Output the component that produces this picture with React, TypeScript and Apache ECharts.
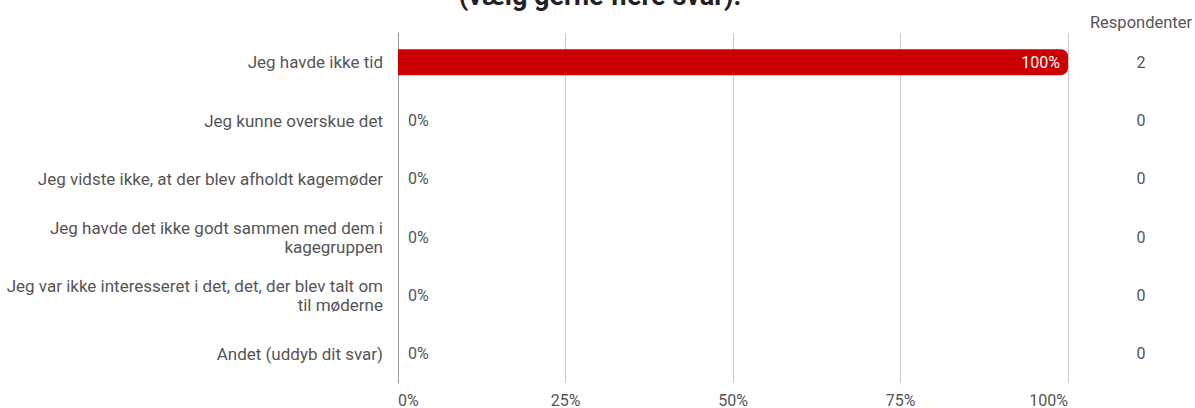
import React, { useEffect, useRef } from "react";
import * as echarts from "echarts";

const titleText = "(vælg gerne flere svar):";
const categories = [
  "Jeg havde ikke tid",
  "Jeg kunne overskue det",
  "Jeg vidste ikke, at der blev afholdt kagemøder",
  "Jeg havde det ikke godt sammen med dem i kagegruppen",
  "Jeg var ikke interesseret i det, det, der blev talt om til møderne",
  "Andet (uddyb dit svar)",
];
const percentValues = [100, 0, 0, 0, 0, 0];
const respondentCounts = [2, 0, 0, 0, 0, 0];
const respondentHeader = "Respondenter";

function wrapText(text: string, font: string, maxWidth: number): string {
  const canvas = document.createElement("canvas");
  const ctx = canvas.getContext("2d");
  if (!ctx) return text;
  ctx.font = font;
  const words = text.split(" ");
  const lines: string[] = [];
  let cur = "";
  for (const w of words) {
    const test = cur ? cur + " " + w : w;
    if (cur && ctx.measureText(test).width > maxWidth) {
      lines.push(cur);
      cur = w;
    } else {
      cur = test;
    }
  }
  if (cur) lines.push(cur);
  return lines.join("\n");
}

export default function App() {
  const ref = useRef<HTMLDivElement>(null);
  useEffect(() => {
    if (!ref.current) return;
    const chart = echarts.init(ref.current, null, { renderer: "svg" });
    const font = "Roboto";
    const fs = 16;
    const catFont = "17px Roboto";
    chart.setOption({
      animation: false,
      textStyle: { fontFamily: font },
      grid: {
        left: 398,
        right: 127,
        top: 33,
        bottom: 25,
        containLabel: false,
        outerBoundsMode: "none",
      },
      graphic: [
        {
          type: "text",
          x: 600,
          y: 9,
          style: {
            text: titleText,
            font: "bold 27px Roboto",
            fill: "#222",
            textAlign: "center",
            textVerticalAlign: "bottom",
          },
        },
        {
          type: "text",
          x: 1141,
          y: 22,
          style: {
            text: respondentHeader,
            font: "16.5px Roboto",
            fill: "#555",
            textAlign: "center",
            textVerticalAlign: "middle",
          },
        },
      ],
      xAxis: {
        type: "value",
        min: 0,
        max: 100,
        interval: 25,
        axisLine: { show: false },
        axisTick: { show: false },
        splitLine: { show: true, lineStyle: { color: "#cccccc", width: 1 } },
        axisLabel: {
          formatter: "{value}%",
          color: "#555",
          fontSize: fs,
          fontFamily: font,
          margin: 9,
          alignMinLabel: "left",
          alignMaxLabel: "right",
        },
      },
      yAxis: [
        {
          type: "category",
          inverse: true,
          data: categories,
          axisTick: { show: false },
          axisLine: { show: true, lineStyle: { color: "#999", width: 1 } },
          axisLabel: {
            color: "#555",
            fontSize: 17,
            fontFamily: font,
            lineHeight: 19,
            margin: 15,
            align: "right",
            formatter: (v: string) => wrapText(v, catFont, 380),
          },
        },
        {
          type: "category",
          inverse: true,
          position: "right",
          data: respondentCounts.map(String),
          axisTick: { show: false },
          axisLine: { show: false },
          splitLine: { show: false },
          axisLabel: {
            color: "#555",
            fontSize: fs,
            fontFamily: font,
            margin: 73,
            align: "center",
          },
        },
      ],
      series: [
        {
          type: "bar",
          yAxisIndex: 0,
          barWidth: 26,
          data: percentValues.map((v) => ({
            value: v,
            itemStyle: { color: "#cc0000", borderRadius: [0, 7, 7, 0] },
            label:
              v > 0
                ? { show: true, position: "insideRight", color: "#fff", distance: 8 }
                : { show: true, position: "right", color: "#555", distance: 10 },
          })),
          label: {
            show: true,
            formatter: (p: any) => p.value + "%",
            fontSize: fs,
            fontFamily: font,
          },
        },
      ],
    });
    return () => chart.dispose();
  }, []);
  return (
    <div
      ref={ref}
      style={{ position: "absolute", left: 0, top: 0, width: 1195, height: 408 }}
    />
  );
}
